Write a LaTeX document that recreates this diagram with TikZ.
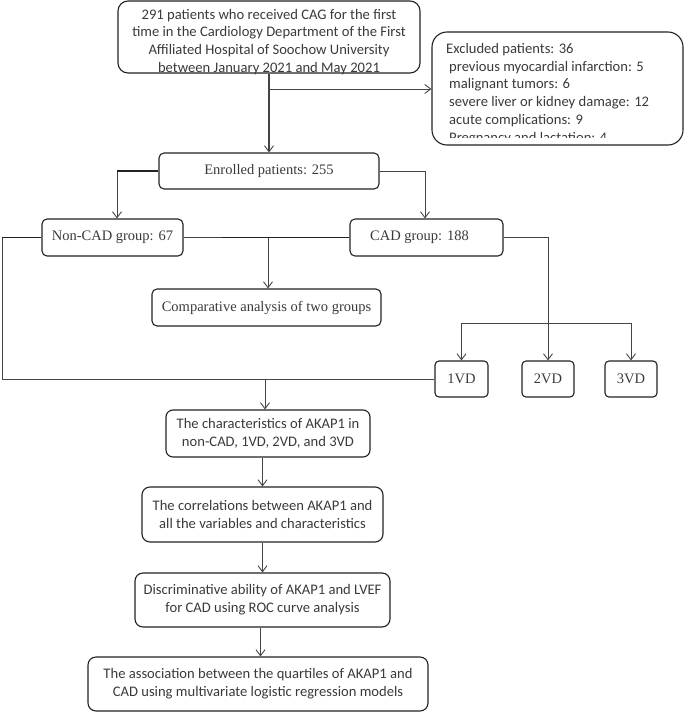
\documentclass[tikz,border=0pt]{standalone}
\usepackage{fontspec}
\setmainfont{Liberation Serif}
\newfontfamily\carlito{Carlito}
\usetikzlibrary{arrows.meta}
\definecolor{boxc}{HTML}{222222}
\definecolor{linec}{HTML}{444444}
\definecolor{txtc}{HTML}{3A3A3A}
\begin{document}
\begin{tikzpicture}[x=1pt,y=-1pt,
  bx/.style={draw=boxc, line width=1.1pt, rounded corners=#1, inner sep=0pt, text=txtc},
  bx/.default=5pt,
  cf/.style={font=\carlito\fontsize{14.6}{17.8}\selectfont, align=center},
  tf/.style={font=\fontsize{14.5}{17}\selectfont},
  conn/.style={draw=linec, line width=0.9pt},
  thk/.style={draw=boxc, line width=1.6pt},
  arr/.style={conn, -{Straight Barb[length=6pt,width=9pt,line width=0.9pt]}}]
\useasboundingbox (0,0) rectangle (685,712);

% boxes
\node[bx=10pt, minimum width=302pt, minimum height=72pt] (top) at (269,37) {};
\node[cf, text=txtc, inner sep=0pt] (toptxt) at (269,42) {291 patients who received CAG for the first\\time in the Cardiology Department of the First\\Affiliated Hospital of Soochow University\\between January 2021 and May 2021};

\node[bx=15pt, minimum width=251pt, minimum height=113pt] (excl) at (557.5,88.5) {};
\begin{scope}
  \clip (432,32) rectangle (683,137);
  \node[cf, align=left, anchor=north west, inner sep=0pt, text=txtc] (excltxt) at (446,43)
   {Excluded patients: 36\\
    \hspace{3pt}previous myocardial infarction: 5\\
    \hspace{3pt}malignant tumors: 6\\
    \hspace{3pt}severe liver or kidney damage: 12\\
    \hspace{3pt}acute complications: 9\\
    \hspace{3pt}Pregnancy and lactation: 4};
\end{scope}

\node[bx, tf, minimum width=220pt, minimum height=36pt] (enr) at (269,171) {Enrolled patients: 255};
\node[bx, tf, minimum width=141pt, minimum height=37pt] (noncad) at (112.5,237.5) {Non-CAD group: 67};
\node[bx, tf, minimum width=153pt, minimum height=37pt] (cad) at (426.5,237.5) {\hspace{-14pt}CAD group: 188};
\node[bx, tf, minimum width=229pt, minimum height=37pt] (comp) at (266.5,307.5) {Comparative analysis of two groups};
\node[bx=4pt, tf, minimum width=53pt, minimum height=36pt] (vd1) at (461.5,379) {1VD};
\node[bx=4pt, tf, minimum width=52pt, minimum height=36pt] (vd2) at (548,379) {2VD};
\node[bx=4pt, tf, minimum width=52pt, minimum height=36pt] (vd3) at (631,379) {3VD};

\node[bx=7pt, cf, minimum width=204pt, minimum height=47pt] (char) at (268,433.5) {The characteristics of AKAP1 in\\non-CAD, 1VD, 2VD, and 3VD};
\node[bx=8pt, cf, minimum width=241pt, minimum height=55pt] (corr) at (262.5,514.5) {The correlations between AKAP1 and\\all the variables and characteristics};
\node[bx=8pt, cf, minimum width=255pt, minimum height=54pt] (disc) at (262.5,600) {Discriminative ability of AKAP1 and LVEF\\for CAD using ROC curve analysis};
\node[bx=8pt, cf, minimum width=340pt, minimum height=54pt] (assoc) at (258,684) {The association between the quartiles of AKAP1 and\\CAD using multivariate logistic regression models};

% connectors
\coordinate (br) at (269,89);
\draw[arr, line width=1.3pt] (top.south) -- (enr.north);
\draw[arr] (br) -- (br -| excl.west);
\draw[arr] (enr.west) -| ([xshift=4.5pt]noncad.north);
\draw[thk] (enr.west) -- ([xshift=4.5pt]noncad.north |- enr.west);
\draw[arr] (enr.east) -| ([xshift=-1.5pt]cad.north);
\draw[conn] (noncad.east) -- (cad.west);
\coordinate (mid) at (268,237.5);
\draw[thk] (cad.west) -- (222,237.5);
\draw[arr] (mid) -- (mid |- comp.north);
\draw[arr] (cad.east) -| (vd2.north);
\coordinate (bus) at (548,323);
\draw[arr] (bus) -| (vd1.north);
\draw[arr] (bus) -| (vd3.north);
\coordinate (lc) at (2,379);
\draw[conn] (noncad.west) -| (lc) -- (vd1.west);
\draw[thk] (noncad.west) -- (noncad.west -| lc);
\coordinate (jn) at (265,379);
\draw[arr] (jn) -- (jn |- char.north);
\draw[arr] (corr.north |- char.south) -- (corr.north);
\draw[arr] (corr.south) -- (disc.north);
\draw[arr] ([xshift=-2pt]disc.south) -- ([xshift=-2pt]disc.south |- assoc.north);
\end{tikzpicture}
\end{document}
